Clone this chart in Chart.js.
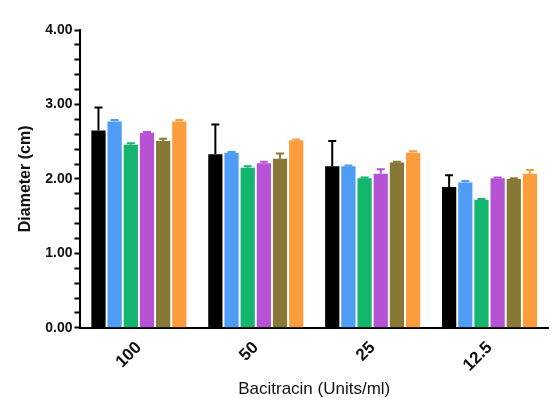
<!DOCTYPE html>
<html>
<head>
<meta charset="utf-8">
<script src="https://cdn.jsdelivr.net/npm/chart.js@4"></script>
<style>
  html, body { margin: 0; padding: 0; background: #fff; }
  #wrap { width: 553px; height: 412px; }
</style>
</head>
<body>
<div id="wrap"><canvas id="chart" width="553" height="412"></canvas></div>
<script>
// DATA
const doses = ["100", "50", "25", "12.5"];
const colors = ["#000000", "#4f9cf4", "#14b56f", "#b553d4", "#877935", "#fd9c3d"];

const s1 = [2.65, 2.33, 2.17, 1.89];
const s2 = [2.77, 2.35, 2.17, 1.95];
const s3 = [2.46, 2.15, 2.01, 1.72];
const s4 = [2.62, 2.21, 2.07, 2.01];
const s5 = [2.51, 2.27, 2.22, 2.00];
const s6 = [2.77, 2.52, 2.35, 2.07];

const e1 = [0.31, 0.40, 0.34, 0.16];
const e2 = [0.02, 0.01, 0.01, 0.02];
const e3 = [0.02, 0.02, 0.01, 0.01];
const e4 = [0.01, 0.02, 0.06, 0.01];
const e5 = [0.03, 0.07, 0.01, 0.01];
const e6 = [0.02, 0.01, 0.02, 0.05];

const series = [s1, s2, s3, s4, s5, s6];
const errors = [e1, e2, e3, e4, e5, e6];

// error bars (upper only)
const errorBars = {
  id: "errorBars",
  afterDatasetsDraw(chart) {
    const ctx = chart.ctx;
    const y = chart.scales.y;
    chart.data.datasets.forEach((ds, i) => {
      const meta = chart.getDatasetMeta(i);
      meta.data.forEach((bar, j) => {
        const top = y.getPixelForValue(ds.data[j] + errors[i][j]);
        ctx.save();
        ctx.strokeStyle = colors[i];
        ctx.lineWidth = 2;
        ctx.beginPath();
        ctx.moveTo(bar.x, bar.y);
        ctx.lineTo(bar.x, top);
        ctx.moveTo(bar.x - 4, top);
        ctx.lineTo(bar.x + 4, top);
        ctx.stroke();
        ctx.restore();
      });
    });
  }
};

const chart = new Chart(document.getElementById("chart").getContext("2d"), {
  type: "bar",
  data: {
    labels: doses,
    datasets: series.map((s, i) => ({
      label: "S" + (i + 1),
      data: s,
      backgroundColor: colors[i],
      borderWidth: 0,
      barPercentage: 0.88,
      categoryPercentage: 0.83,
    })),
  },
  options: {
    responsive: false,
    animation: false,
    layout: { padding: { top: 30, right: 5, left: 12, bottom: 8 } },
    plugins: {
      legend: { display: false },
      tooltip: { enabled: false },
    },
    scales: {
      x: {
        grid: { display: false, drawTicks: true, tickLength: 6, tickColor: "#000", tickWidth: 2, offset: false },
        border: { color: "#000", width: 2 },
        ticks: {
          color: "#111",
          font: { family: "Liberation Sans", size: 17, weight: "bold" },
          minRotation: 45,
          maxRotation: 45,
          padding: 4,
        },
        title: {
          display: true,
          text: "Bacitracin (Units/ml)",
          color: "#111",
          font: { family: "Liberation Sans", size: 17 },
          padding: { top: 0 },
        },
      },
      y: {
        min: 0,
        max: 4,
        grid: { drawOnChartArea: false, tickLength: 6, tickColor: "#000", tickWidth: 2 },
        border: { color: "#000", width: 2 },
        ticks: {
          stepSize: 0.2,
          autoSkip: false,
          color: "#111",
          font: { family: "Liberation Sans", size: 14, weight: "bold" },
          padding: 2,
          callback: (v) => (Math.abs(v - Math.round(v)) < 1e-6 ? v.toFixed(2) : ""),
        },
        title: {
          display: true,
          text: "Diameter (cm)",
          color: "#111",
          font: { family: "Liberation Sans", size: 16, weight: "bold" },
          padding: { bottom: 8 },
        },
      },
    },
  },
  plugins: [errorBars],
});
</script>
</body>
</html>
